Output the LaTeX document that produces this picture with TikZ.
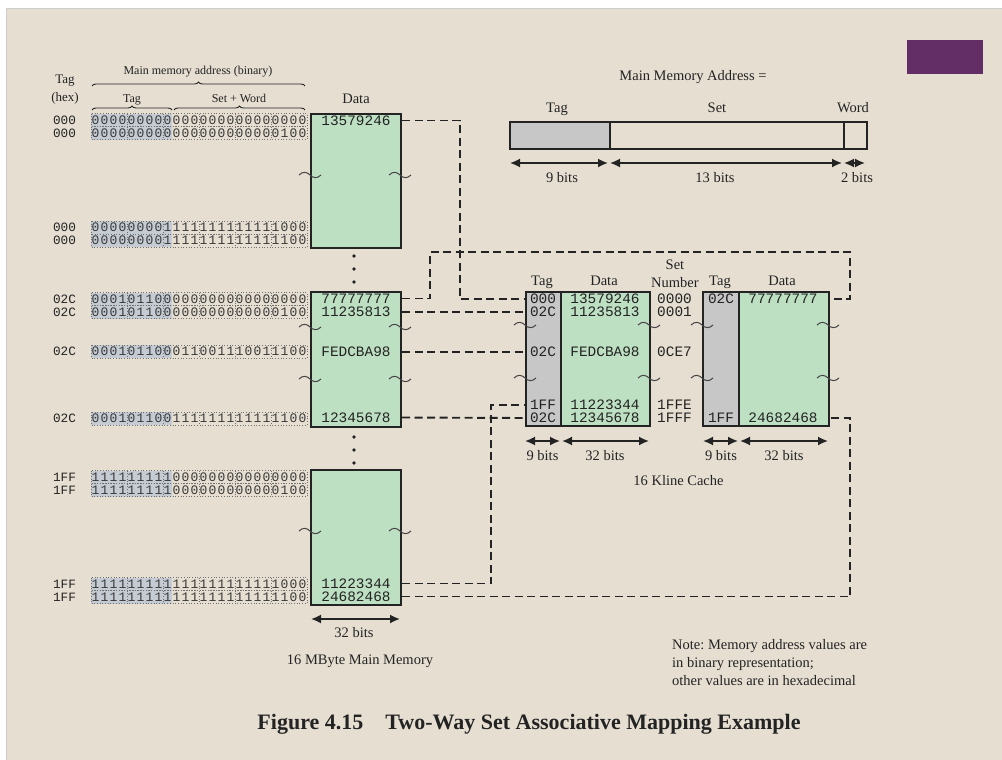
\documentclass[tikz,border=0pt]{standalone}
\usepackage{fontspec}
\setmainfont{Liberation Serif}
\newfontfamily\codefont{Liberation Mono}
\usetikzlibrary{arrows.meta,decorations.pathreplacing}

\definecolor{paper}{RGB}{229,222,209}
\definecolor{cellgreen}{RGB}{190,224,194}
\definecolor{tagfill}{RGB}{199,199,199}
\definecolor{bitshade}{RGB}{196,203,210}
\definecolor{plum}{RGB}{99,46,101}
\definecolor{ink}{RGB}{35,35,35}

% each bit in a cell of fixed width
\newcommand\spreadbits[1]{\spreadloop#1\relax}
\def\spreadloop#1{\ifx#1\relax\else\makebox[9pt]{#1}\expandafter\spreadloop\fi}

% one binary address row: #1 y, #2 bits, #3 hex tag, #4 node name
\newcommand\addrrow[4]{%
  \fill[bitshade] (91,#1-6.5) rectangle (172,#1+6.5);
  \draw[bitgrid] (91,#1-6.5) rectangle (307,#1+6.5);
  \foreach \k in {4,8,12,16,20}{\draw[bitgrid] (91+9*\k,#1-6.5) -- (91+9*\k,#1+6.5);}
  \node[bits] (#4) at (199,#1) {\spreadbits{#2}};
  \node[hexcol] (#4-hex) at (64.5,#1) {#3};
}
% break mark across a box edge
\newcommand\brk[2]{\draw[squig] (#1-11,#2) .. controls (#1-7,#2-4) and (#1-3,#2-3) .. (#1,#2) .. controls (#1+3,#2+3) and (#1+7,#2+4) .. (#1+11,#2);}

\begin{document}
\begin{tikzpicture}[x=1pt,y=-1pt,
  box/.style={draw=ink,line width=2pt,inner sep=0pt,anchor=north west},
  lbl/.style={inner sep=0pt,text height=0.68em,text depth=0pt,text=ink,font=\fontsize{14.5}{17}\selectfont},
  lblsmall/.style={lbl,font=\fontsize{12}{14}\selectfont},
  val/.style={inner sep=0pt,text=ink,font=\codefont\fontsize{14.4}{16}\selectfont},
  hexcol/.style={inner sep=0pt,text=ink,font=\codefont\fontsize{12.7}{14}\selectfont},
  bits/.style={inner sep=0pt,text=ink!90,font=\codefont\fontsize{13}{13}\selectfont},
  bitgrid/.style={draw=ink!65,line width=0.7pt,dotted},
  link/.style={draw=ink,line width=1.9pt,dash pattern=on 8pt off 4.5pt},
  dimline/.style={draw=ink,line width=1.7pt,{Latex[length=10pt,width=9pt]}-{Latex[length=10pt,width=9pt]}},
  squig/.style={draw=ink!85,line width=1pt},
  dotmark/.style={fill=ink},
  brc/.style={draw=ink,line width=0.9pt,decorate,decoration={brace,amplitude=4pt}}
]
\useasboundingbox (0,0) rectangle (1002,760);
\fill[white] (0,0) rectangle (1002,760);
\fill[paper] (6,9) rectangle (1002,760);
\draw[black!20,line width=1pt] (6,760) -- (6,9) -- (1002,9);
\fill[plum] (907,40) rectangle (983,74);

% ---- main memory: headings
\node[lbl,font=\fontsize{13}{15}\selectfont] (tagHexA) at (65,80) {Tag};
\node[lbl,font=\fontsize{13}{15}\selectfont] (tagHexB) at (65,98) {(hex)};
\node[lblsmall] (mmaddr) at (198,71) {Main memory address (binary)};
\draw[brc] (92,86) -- (305,86);
\node[lblsmall] (hTag) at (132,99) {Tag};
\node[lblsmall] (hSetWord) at (239,99) {Set + Word};
\draw[brc] (92,110) -- (172,110);
\draw[brc] (174,110) -- (305,110);
\node[lbl] (hData) at (356,100) {Data};

% ---- main memory blocks
\node[box,fill=cellgreen,minimum width=90pt,minimum height=134pt] (memA) at (310,113) {};
\node[box,fill=cellgreen,minimum width=90pt,minimum height=135pt] (memB) at (310,291) {};
\node[box,fill=cellgreen,minimum width=90pt,minimum height=135pt] (memC) at (310,469) {};

\brk{310}{175}\brk{400}{175}
\brk{310}{327}\brk{400}{327}
\brk{310}{379}\brk{400}{379}
\brk{310}{531}\brk{400}{531}

\foreach \yy in {256,269,282,437,450,463}{\fill[dotmark] (354,\yy) circle (1.8pt);}

\node[val] (mA1) at (356,120.5) {13579246};
\node[val] (mB1) at (356,298.5) {77777777};
\node[val] (mB2) at (356,312) {11235813};
\node[val] (mB3) at (356,352) {FEDCBA98};
\node[val] (mB4) at (356,417.5) {12345678};
\node[val] (mC3) at (356,583.5) {11223344};
\node[val] (mC4) at (356,596.5) {24682468};

% ---- binary addresses
\addrrow{120}{000000000000000000000000}{000}{aA1}
\addrrow{133}{000000000000000000000100}{000}{aA2}
\addrrow{227.5}{000000001111111111111000}{000}{aA3}
\addrrow{240.5}{000000001111111111111100}{000}{aA4}
\addrrow{299}{000101100000000000000000}{02C}{aB1}
\addrrow{312}{000101100000000000000100}{02C}{aB2}
\addrrow{351.5}{000101100011001110011100}{02C}{aB3}
\addrrow{418.5}{000101100111111111111100}{02C}{aB4}
\addrrow{477}{111111111000000000000000}{1FF}{aC1}
\addrrow{490}{111111111000000000000100}{1FF}{aC2}
\addrrow{584}{111111111111111111111000}{1FF}{aC3}
\addrrow{597}{111111111111111111111100}{1FF}{aC4}

\draw[dimline] (311,619) -- (400,619);
\node[lbl] (mem32) at (354,634) {32 bits};
\node[lbl] (memName) at (360,661) {16 MByte Main Memory};

% ---- address format
\node[lbl] (fmtTitle) at (693,77) {Main Memory Address =};
\node[lbl] (fmtTag) at (557,109) {Tag};
\node[lbl] (fmtSet) at (717,109) {Set};
\node[lbl] (fmtWord) at (853,109) {Word};
\node[box,fill=tagfill,minimum width=100pt,minimum height=27pt] (fTag) at (509,121) {};
\node[box,minimum width=234pt,minimum height=27pt] (fSet) at (609,121) {};
\node[box,minimum width=23pt,minimum height=27pt] (fWord) at (843,121) {};
\draw[dimline] (510,163) -- (608,163);
\draw[dimline] (610,163) -- (842,163);
\draw[dimline] (844,163) -- (865,163);
\node[lbl] (fb9) at (562,179) {9 bits};
\node[lbl] (fb13) at (715,179) {13 bits};
\node[lbl] (fb2) at (857,179) {2 bits};

% ---- cache
\node[lbl] (chTagA) at (542,282) {Tag};
\node[lbl] (chDatA) at (604,282) {Data};
\node[lbl] (chSet) at (675,266) {Set};
\node[lbl] (chNum) at (675,284) {Number};
\node[lbl] (chTagB) at (720,282) {Tag};
\node[lbl] (chDatB) at (782,282) {Data};

\node[box,fill=tagfill,minimum width=35pt,minimum height=134pt] (cTagA) at (525,291) {};
\node[box,fill=cellgreen,minimum width=89pt,minimum height=134pt] (cDatA) at (560,291) {};
\node[box,fill=tagfill,minimum width=36pt,minimum height=134pt] (cTagB) at (702,291) {};
\node[box,fill=cellgreen,minimum width=90pt,minimum height=134pt] (cDatB) at (738,291) {};

\brk{525}{325}\brk{649}{325}\brk{525}{378}\brk{649}{378}
\brk{702}{325}\brk{828}{325}\brk{702}{378}\brk{828}{378}

\node[val] (cA1) at (543,299) {000};
\node[val] (cA2) at (543,312) {02C};
\node[val] (cA3) at (543,352) {02C};
\node[val] (cA4) at (543,405) {1FF};
\node[val] (cA5) at (543,418) {02C};
\node[val] (dA1) at (605,299) {13579246};
\node[val] (dA2) at (605,312) {11235813};
\node[val] (dA3) at (605,352) {FEDCBA98};
\node[val] (dA4) at (605,405) {11223344};
\node[val] (dA5) at (605,418) {12345678};
\node[val] (s1) at (674.5,299) {0000};
\node[val] (s2) at (674.5,312) {0001};
\node[val] (s3) at (674.5,352) {0CE7};
\node[val] (s4) at (674.5,405) {1FFE};
\node[val] (s5) at (674.5,418) {1FFF};
\node[val] (cB1) at (721,299) {02C};
\node[val] (cB2) at (721,418) {1FF};
\node[val] (dB1) at (783,299) {77777777};
\node[val] (dB2) at (783,418) {24682468};

\draw[dimline] (525,441) -- (560,441);
\draw[dimline] (562,441) -- (649,441);
\draw[dimline] (703,441) -- (738,441);
\draw[dimline] (740,441) -- (828,441);
\node[lbl] (cb9A) at (542.5,457) {9 bits};
\node[lbl] (cb32A) at (605,457) {32 bits};
\node[lbl] (cb9B) at (721,457) {9 bits};
\node[lbl] (cb32B) at (784,457) {32 bits};
\node[lbl] (cacheName) at (678.5,482) {16 Kline Cache};

% ---- mapping lines
\coordinate (j1) at (460,0);
\coordinate (j2) at (430,252);
\coordinate (j3) at (850,252);
\coordinate (j4) at (491,0);
\coordinate (j5) at (850,0);
\draw[link] (mA1 -| memA.east) -- (mA1 -| j1) |- (cA1 -| cTagA.west);
\draw[link] (mB1 -| memB.east) -| (j2) -- (j3) |- (dB1 -| cDatB.east);
\draw[link] (mB2 -| memB.east) -- (cA2 -| cTagA.west);
\draw[link] (mB3 -| memB.east) -- (cA3 -| cTagA.west);
\draw[link] (mB4 -| memB.east) -- (cA5 -| cTagA.west);
\draw[link] (mC3 -| memC.east) -| (cA4 -| j4) -- (cA4 -| cTagA.west);
\draw[link] (mC4 -| memC.east) -| (dB2 -| j5) -- (dB2 -| cDatB.east);

% ---- note and caption
\node[lbl,anchor=west] (note1) at (672,646) {Note:\ Memory address values are};
\node[lbl,anchor=west] (note2) at (672,664) {in binary representation;};
\node[lbl,anchor=west] (note3) at (672,682) {other values are in hexadecimal};
\node[lbl,font=\bfseries\fontsize{22}{26}\selectfont] (caption) at (529,726) {Figure 4.15\quad Two-Way Set Associative Mapping Example};
\end{tikzpicture}
\end{document}
